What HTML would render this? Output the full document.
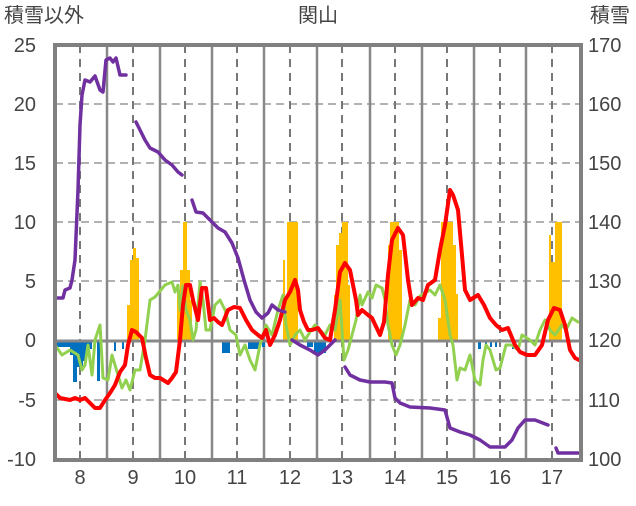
<!DOCTYPE html><html><head><meta charset="utf-8"><style>
body{margin:0;background:#fff}
text{font-family:"Liberation Sans","Noto Sans CJK JP",sans-serif;fill:#444}
</style></head><body>
<svg width="636" height="501" xmlns="http://www.w3.org/2000/svg">
<g font-size="20">
<text x="4" y="22">積雪以外</text>
<text x="318" y="22" text-anchor="middle">関山</text>
<text x="590" y="22">積雪</text>
<g text-anchor="end">
<text x="36" y="52">25</text><text x="36" y="111">20</text><text x="36" y="170">15</text><text x="36" y="229">10</text><text x="36" y="288">5</text><text x="36" y="347">0</text><text x="36" y="407">-5</text><text x="36" y="466">-10</text></g>
<g text-anchor="start">
<text x="588" y="52">170</text><text x="588" y="111">160</text><text x="588" y="170">150</text><text x="588" y="229">140</text><text x="588" y="288">130</text><text x="588" y="347">120</text><text x="588" y="407">110</text><text x="588" y="466">100</text></g>
<g text-anchor="middle">
<text x="80" y="484">8</text><text x="133" y="484">9</text><text x="185" y="484">10</text><text x="237" y="484">11</text><text x="290" y="484">12</text><text x="342" y="484">13</text><text x="395" y="484">14</text><text x="447" y="484">15</text><text x="500" y="484">16</text><text x="552" y="484">17</text></g>
</g>
<g stroke="#999" stroke-width="1.5" stroke-dasharray="8,5">
<line x1="55" y1="104" x2="581" y2="104"/><line x1="55" y1="163" x2="581" y2="163"/><line x1="55" y1="222" x2="581" y2="222"/><line x1="55" y1="281" x2="581" y2="281"/><line x1="55" y1="400" x2="581" y2="400"/>
</g>
<g stroke="#777" stroke-width="2" stroke-dasharray="8,6">
<line x1="80" y1="45" x2="80" y2="460"/><line x1="133" y1="45" x2="133" y2="460"/><line x1="185" y1="45" x2="185" y2="460"/><line x1="237" y1="45" x2="237" y2="460"/><line x1="290" y1="45" x2="290" y2="460"/><line x1="342" y1="45" x2="342" y2="460"/><line x1="395" y1="45" x2="395" y2="460"/><line x1="447" y1="45" x2="447" y2="460"/><line x1="500" y1="45" x2="500" y2="460"/><line x1="552" y1="45" x2="552" y2="460"/>
</g>
<g stroke="#888" stroke-width="2.5">
<line x1="107" y1="45" x2="107" y2="460"/><line x1="160" y1="45" x2="160" y2="460"/><line x1="212" y1="45" x2="212" y2="460"/><line x1="264" y1="45" x2="264" y2="460"/><line x1="317" y1="45" x2="317" y2="460"/><line x1="370" y1="45" x2="370" y2="460"/><line x1="422" y1="45" x2="422" y2="460"/><line x1="474" y1="45" x2="474" y2="460"/><line x1="526" y1="45" x2="526" y2="460"/>
</g>
<g fill="#FFC000">
<rect x="127" y="305" width="3" height="36"/><rect x="130" y="260" width="3" height="81"/><rect x="133" y="248" width="3" height="93"/><rect x="136" y="258" width="3" height="83"/>
<rect x="177" y="290" width="3" height="51"/><rect x="180" y="270" width="3" height="71"/><rect x="183" y="222" width="4" height="119"/><rect x="187" y="270" width="3" height="71"/><rect x="190" y="300" width="2" height="41"/>
<rect x="283" y="260" width="2" height="81"/><rect x="285" y="300" width="3" height="41"/><rect x="287" y="222" width="11" height="119"/>
<rect x="334" y="295" width="2" height="46"/><rect x="336" y="245" width="3" height="96"/><rect x="339" y="233" width="3" height="108"/><rect x="342" y="222" width="6" height="119"/><rect x="348" y="285" width="2" height="56"/>
<rect x="388" y="245" width="2" height="96"/><rect x="390" y="222" width="9" height="119"/><rect x="399" y="250" width="3" height="91"/>
<rect x="438" y="318" width="3" height="23"/><rect x="441" y="222" width="12" height="119"/><rect x="453" y="245" width="3" height="96"/><rect x="456" y="294" width="2" height="47"/>
<rect x="549" y="235" width="2" height="106"/><rect x="551" y="262" width="4" height="79"/><rect x="555" y="222" width="7" height="119"/>
</g>
<g fill="#0070C0">
<rect x="56" y="341" width="14" height="6"/><rect x="70" y="341" width="3" height="14"/><rect x="73" y="341" width="4" height="41"/><rect x="77" y="341" width="6" height="26"/><rect x="83" y="341" width="4" height="20"/><rect x="87" y="341" width="5" height="8"/><rect x="97" y="341" width="3" height="40"/><rect x="100" y="341" width="2" height="10"/><rect x="114" y="341" width="2" height="10"/><rect x="122" y="341" width="2" height="8"/>
<rect x="222" y="341" width="8" height="12"/><rect x="248" y="341" width="12" height="8"/><rect x="262" y="341" width="3" height="6"/>
<rect x="314" y="341" width="12" height="12"/><rect x="307" y="341" width="6" height="6"/>
<rect x="478" y="341" width="3" height="8"/><rect x="485" y="341" width="2" height="6"/><rect x="490" y="341" width="2" height="6"/><rect x="495" y="341" width="2" height="6"/><rect x="512" y="341" width="2" height="8"/>
</g>
<line x1="55" y1="341" x2="581" y2="341" stroke="#888" stroke-width="3"/>
<g fill="none" stroke-linejoin="round" stroke-linecap="round">
<polyline stroke="#92D050" stroke-width="3" points="55,345 62,355 70,350 78,355 82,370 85,365 88,345 92,375 95,340 100,325 103,378 108,380 112,355 118,375 122,388 126,380 130,390 135,370 140,370 145,340 150,300 155,297 165,285 172,282 175,292 178,285 180,310 183,286 186,310 190,320 193,340 196,330 200,282 203,300 206,330 210,330 215,305 220,300 225,310 230,330 236,335 240,355 245,345 250,360 255,370 260,345 266,325 272,335 278,310 283,295 286,325 290,345 295,335 300,330 305,340 310,332 315,325 320,330 325,335 330,325 335,330 340,300 344,360 348,350 352,335 356,320 360,295 362,305 368,292 372,298 376,285 382,288 385,300 388,325 392,345 396,355 400,345 405,325 410,300 415,305 420,296 430,290 435,295 440,285 445,300 450,335 453,345 457,380 460,368 465,370 470,355 475,380 480,385 483,360 486,345 490,350 496,370 500,368 506,345 512,345 518,350 522,335 530,340 535,345 540,330 545,320 550,330 555,335 562,325 566,330 572,318 578,322"/>
<polyline stroke="#FF0000" stroke-width="4" points="55,393 60,398 70,400 75,398 80,400 85,398 90,403 95,408 100,408 105,400 110,393 115,385 120,372 125,365 128,345 132,330 136,332 142,338 146,358 150,375 155,378 160,378 168,383 172,378 176,372 180,340 183,305 186,285 190,285 193,300 198,320 202,288 206,288 210,320 214,318 218,322 222,325 228,310 234,307 240,308 246,320 252,330 258,335 262,338 266,330 270,345 275,335 280,320 285,300 290,292 295,280 298,290 300,310 304,322 308,330 312,330 318,328 325,338 330,340 335,310 340,272 345,263 350,270 356,300 358,315 362,310 368,315 372,318 380,335 384,322 388,275 392,240 398,228 403,235 408,280 412,305 418,298 423,300 428,285 435,280 440,250 445,225 450,190 453,195 458,210 462,255 465,290 470,300 478,295 484,305 490,318 496,325 502,330 508,328 515,345 520,352 527,355 535,355 542,345 548,320 554,308 560,310 565,325 570,350 575,358 579,360"/>
<g stroke="#7030A0" stroke-width="3.5">
<polyline points="55,298 63,298 65,290 70,288 72,280 75,260 78,190 80,125 82,95 85,80 90,82 95,76 100,90 103,92 106,60 110,58 113,62 116,58 120,75 126,75"/>
<polyline points="136,122 140,130 145,140 150,148 158,152 165,160 172,165 178,172 182,175"/>
<polyline points="192,200 196,212 203,213 210,220 218,228 225,232 232,243 238,258 244,280 250,300 256,312 262,318 268,313 272,305 278,310 285,312"/>
<polyline points="292,340 300,345 310,350 318,355 325,350 335,340"/>
<polyline points="345,367 350,375 360,380 370,382 385,382 392,383 395,398 400,403 410,407 430,408 445,410 450,428 460,432 470,435 480,440 490,447 505,447 512,440 518,428 525,420 535,420 548,425"/>
<polyline points="556,448 558,453 578,453"/>
</g></g>
<rect x="55" y="45" width="526" height="415" fill="none" stroke="#808080" stroke-width="4"/>
</svg></body></html>
